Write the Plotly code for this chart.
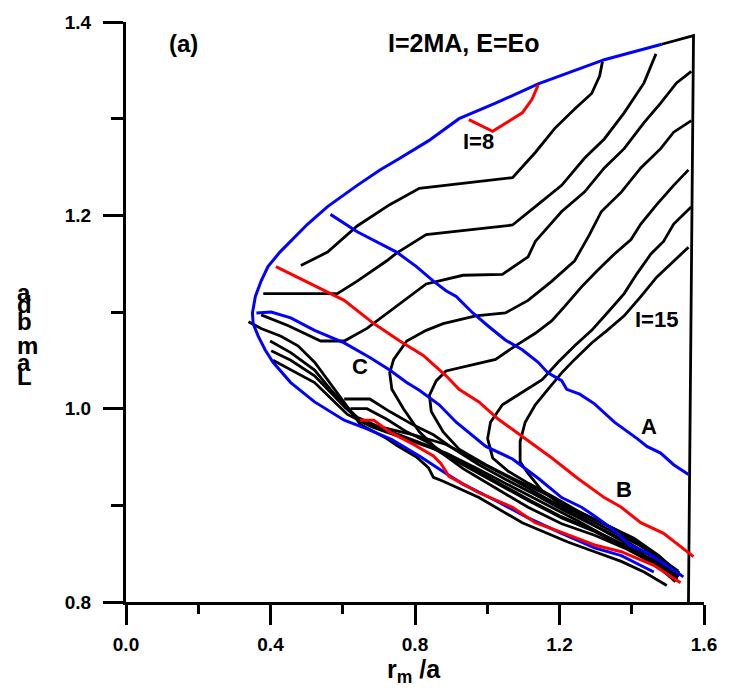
import plotly.graph_objects as go

# ---------------- data: r_m/a (R) and Lambda (L) along each curve ----------------
BLUE_OUTER_R = [1.483, 1.324, 1.141, 1.023, 0.922, 0.837, 0.758, 0.703, 0.640, 0.558, 0.503, 0.426, 0.393, 0.374,
                0.358, 0.350, 0.352, 0.366, 0.385, 0.407, 0.456, 0.522, 0.604, 0.667, 0.736, 0.812, 0.886, 0.933,
                1.023, 1.113, 1.206, 1.297, 1.371, 1.461]
BLUE_OUTER_L = [1.377, 1.361, 1.336, 1.316, 1.300, 1.277, 1.259, 1.247, 1.231, 1.209, 1.191, 1.162, 1.147, 1.132,
                1.116, 1.099, 1.088, 1.075, 1.061, 1.048, 1.027, 1.007, 0.988, 0.979, 0.968, 0.951, 0.933, 0.922,
                0.905, 0.887, 0.871, 0.856, 0.848, 0.831]

BLUE_A_R = [0.566, 0.640, 0.749, 0.804, 0.851, 0.886, 0.914, 0.960, 1.004, 1.050, 1.097, 1.141, 1.168, 1.206,
            1.220, 1.256, 1.297, 1.352, 1.415, 1.442, 1.480, 1.516, 1.557]
BLUE_A_L = [1.201, 1.183, 1.162, 1.147, 1.132, 1.122, 1.116, 1.099, 1.085, 1.071, 1.061, 1.048, 1.037, 1.029,
            1.020, 1.015, 1.005, 0.986, 0.969, 0.961, 0.954, 0.942, 0.932]

BLUE_C_R = [0.361, 0.402, 0.456, 0.522, 0.604, 0.675, 0.730, 0.777, 0.812, 0.867, 0.914, 0.996, 1.070, 1.141,
            1.206, 1.261, 1.297, 1.352, 1.393, 1.442, 1.488, 1.543]
BLUE_C_L = [1.099, 1.100, 1.094, 1.081, 1.068, 1.053, 1.040, 1.027, 1.019, 1.004, 0.986, 0.961, 0.948, 0.928,
            0.908, 0.898, 0.889, 0.874, 0.859, 0.851, 0.840, 0.826]

RED_B_R = [0.415, 0.522, 0.604, 0.686, 0.758, 0.823, 0.886, 0.922, 0.977, 1.031, 1.105, 1.179, 1.250, 1.324,
           1.371, 1.425, 1.488, 1.524, 1.571]
RED_B_L = [1.147, 1.127, 1.112, 1.088, 1.070, 1.055, 1.034, 1.020, 1.007, 0.989, 0.969, 0.949, 0.928, 0.908,
           0.898, 0.882, 0.871, 0.861, 0.847]

RED_8_R = [0.949, 1.015, 1.097, 1.124, 1.141]
RED_8_L = [1.299, 1.287, 1.306, 1.320, 1.335]

RED_LOW_R = [0.648, 0.686, 0.730, 0.796, 0.851, 0.872, 0.894, 0.977, 1.070, 1.133, 1.206, 1.297, 1.371, 1.461, 1.535]
RED_LOW_L = [0.988, 0.988, 0.976, 0.963, 0.951, 0.943, 0.930, 0.913, 0.898, 0.882, 0.872, 0.859, 0.852, 0.838, 0.820]

EDGE_R = [1.483, 1.571, 1.557]
EDGE_L = [1.377, 1.386, 0.800]

K1_R = [1.319, 1.311, 1.289, 1.242, 1.187, 1.133, 1.070, 0.812, 0.730, 0.640, 0.558, 0.484]
K1_L = [1.359, 1.344, 1.326, 1.310, 1.290, 1.265, 1.239, 1.228, 1.211, 1.189, 1.162, 1.148]

K2_R = [1.467, 1.434, 1.379, 1.324, 1.269, 1.206, 1.133, 1.070, 0.831, 0.749, 0.722, 0.640, 0.585, 0.380]
K2_L = [1.367, 1.337, 1.306, 1.279, 1.259, 1.231, 1.209, 1.190, 1.180, 1.161, 1.153, 1.132, 1.119, 1.119]

K3_R = [1.565, 1.524, 1.480, 1.434, 1.379, 1.324, 1.269, 1.206, 1.133, 1.113, 1.042, 0.933, 0.831, 0.749,
        0.667, 0.604, 0.539, 0.448, 0.374]
K3_L = [1.349, 1.337, 1.316, 1.296, 1.269, 1.249, 1.224, 1.204, 1.173, 1.157, 1.139, 1.138, 1.129, 1.106,
        1.083, 1.070, 1.070, 1.086, 1.097]

K4_R = [1.565, 1.516, 1.480, 1.425, 1.371, 1.316, 1.283, 1.242, 1.179, 1.113, 1.050, 0.968, 0.878, 0.831,
        0.777, 0.741, 0.730, 0.736, 0.768, 0.812, 0.867, 0.933, 1.023, 1.113, 1.206, 1.297, 1.379, 1.461, 1.524]
K4_L = [1.298, 1.286, 1.269, 1.249, 1.224, 1.204, 1.180, 1.153, 1.132, 1.112, 1.099, 1.096, 1.088, 1.081,
        1.070, 1.051, 1.037, 1.020, 1.000, 0.976, 0.956, 0.938, 0.918, 0.898, 0.881, 0.869, 0.856, 0.840, 0.823]

K5_R = [1.557, 1.516, 1.469, 1.425, 1.398, 1.352, 1.305, 1.261, 1.215, 1.179, 1.133, 1.078, 1.023, 0.968,
        0.886, 0.859, 0.840, 0.845, 0.878, 0.922, 0.996, 1.070, 1.160, 1.250, 1.324, 1.406, 1.475, 1.535]
K5_L = [1.247, 1.231, 1.211, 1.191, 1.175, 1.160, 1.143, 1.126, 1.106, 1.091, 1.078, 1.065, 1.051, 1.046,
        1.039, 1.029, 1.014, 0.997, 0.976, 0.958, 0.942, 0.928, 0.912, 0.894, 0.881, 0.866, 0.848, 0.828]

K6_R = [1.565, 1.516, 1.488, 1.453, 1.415, 1.379, 1.332, 1.289, 1.242, 1.196, 1.152, 1.097, 1.042, 1.009,
        1.001, 1.015, 1.059, 1.113, 1.187, 1.261, 1.338, 1.406, 1.467, 1.532]
K6_L = [1.209, 1.191, 1.173, 1.160, 1.140, 1.119, 1.099, 1.081, 1.065, 1.048, 1.030, 1.017, 1.004, 0.986,
        0.969, 0.949, 0.935, 0.923, 0.908, 0.892, 0.878, 0.864, 0.848, 0.830]

K7_R = [1.557, 1.516, 1.469, 1.425, 1.379, 1.332, 1.289, 1.242, 1.206, 1.168, 1.133, 1.105, 1.091, 1.091,
        1.113, 1.152, 1.206, 1.278, 1.352, 1.420, 1.475, 1.529]
K7_L = [1.167, 1.153, 1.136, 1.116, 1.096, 1.081, 1.068, 1.051, 1.037, 1.020, 1.004, 0.986, 0.966, 0.945,
        0.933, 0.915, 0.900, 0.886, 0.872, 0.859, 0.846, 0.832]

F1_R = [0.339, 0.374, 0.429, 0.476, 0.522, 0.558, 0.585, 0.613, 0.648, 0.722, 0.749, 0.804, 0.837, 0.851,
        0.878, 0.977, 1.097, 1.223, 1.297, 1.371, 1.434, 1.497]
F1_L = [1.090, 1.083, 1.075, 1.065, 1.048, 1.030, 1.017, 1.002, 0.984, 0.969, 0.962, 0.950, 0.939, 0.929,
        0.925, 0.908, 0.882, 0.862, 0.852, 0.842, 0.831, 0.817]

F2_R = [0.399, 0.456, 0.522, 0.566, 0.604, 0.640, 0.695, 0.796, 0.886, 0.977, 1.070, 1.160, 1.250, 1.332,
        1.406, 1.475, 1.524]
F2_L = [1.070, 1.058, 1.040, 1.020, 1.004, 0.991, 0.982, 0.973, 0.963, 0.945, 0.927, 0.908, 0.889, 0.872,
        0.856, 0.838, 0.823]

F3_R = [0.407, 0.456, 0.522, 0.566, 0.613, 0.681, 0.796, 0.886, 0.977, 1.070, 1.160, 1.250, 1.332, 1.406,
        1.475, 1.521]
F3_L = [1.050, 1.040, 1.027, 1.011, 0.994, 0.981, 0.966, 0.954, 0.937, 0.919, 0.902, 0.884, 0.867, 0.852,
        0.836, 0.821]

F4_R = [0.402, 0.456, 0.522, 0.566, 0.607, 0.654, 0.749, 0.840, 0.933, 1.023, 1.113, 1.206, 1.297, 1.379,
        1.461, 1.527]
F4_L = [1.060, 1.050, 1.034, 1.017, 1.001, 0.986, 0.974, 0.961, 0.942, 0.924, 0.905, 0.887, 0.873, 0.857,
        0.840, 0.824]

S1_R = [0.604, 0.675, 0.730, 0.796, 0.851, 0.905, 0.977, 1.050, 1.133, 1.215, 1.297, 1.379, 1.461, 1.532]
S1_L = [1.010, 1.010, 0.997, 0.983, 0.973, 0.959, 0.942, 0.927, 0.911, 0.894, 0.879, 0.864, 0.846, 0.827]

S2_R = [0.621, 0.667, 0.722, 0.777, 0.831, 0.886, 0.960, 1.037, 1.119, 1.201, 1.297, 1.379, 1.461, 1.529]
S2_L = [1.000, 1.000, 0.989, 0.976, 0.966, 0.953, 0.938, 0.922, 0.905, 0.889, 0.874, 0.859, 0.843, 0.826]

BLACK_CURVES = [(EDGE_R, EDGE_L), (K1_R, K1_L), (K2_R, K2_L), (K3_R, K3_L), (K4_R, K4_L), (K5_R, K5_L),
                (K6_R, K6_L), (K7_R, K7_L), (F1_R, F1_L), (F2_R, F2_L), (F3_R, F3_L), (F4_R, F4_L),
                (S1_R, S1_L), (S2_R, S2_L)]
BLUE_CURVES = [(BLUE_OUTER_R, BLUE_OUTER_L), (BLUE_A_R, BLUE_A_L), (BLUE_C_R, BLUE_C_L)]
RED_CURVES = [(RED_B_R, RED_B_L), (RED_8_R, RED_8_L), (RED_LOW_R, RED_LOW_L)]

FONT = "Liberation Sans, Arial, sans-serif"

fig = go.Figure()
for r, l in BLACK_CURVES:
    fig.add_trace(go.Scatter(x=r, y=l, mode="lines", line=dict(color="black", width=2.8), hoverinfo="skip"))
for r, l in BLUE_CURVES:
    fig.add_trace(go.Scatter(x=r, y=l, mode="lines", line=dict(color="#0000ff", width=3), hoverinfo="skip"))
for r, l in RED_CURVES:
    fig.add_trace(go.Scatter(x=r, y=l, mode="lines", line=dict(color="#ff0000", width=3), hoverinfo="skip"))

ann = []
def label(text, x, y, size, xref="x", yref="y", xanchor="center", yanchor="middle"):
    ann.append(dict(text=text, x=x, y=y, xref=xref, yref=yref, xanchor=xanchor, yanchor=yanchor,
                    showarrow=False, font=dict(family=FONT, size=size, color="black", weight="bold")))

label("(a)", 0.158, 1.378, 24)
label("I=2MA, E=Eo", 0.935, 1.3785, 25)
label("I=8", 0.9765, 1.276, 22)
label("I=15", 1.469, 1.092, 22)
label("A", 1.447, 0.982, 22)
label("B", 1.379, 0.916, 22)
label("C", 0.648, 1.0435, 22)
label("r<sub>m</sub> /a", 0.7985, -0.119, 25, yref="paper")
# stacked y title letters (bottom to top spells "Lambda")
for ch, yy in [("L", 1.0332), ("a", 1.0475), ("m", 1.0649), ("b", 1.0904), ("d", 1.1078), ("a", 1.1205)]:
    label(ch, -0.1915, yy, 24, xref="paper", xanchor="left")

axis_common = dict(ticks="outside", ticklen=20, tickwidth=3, tickcolor="black", showline=True, linewidth=3,
                   linecolor="black", showgrid=False, zeroline=False, tickformat=".1f",
                   tickfont=dict(family=FONT, size=19, color="black", weight="bold"))

fig.update_layout(
    width=729, height=692, margin=dict(l=126, r=18, t=15, b=90),
    paper_bgcolor="white", plot_bgcolor="white", showlegend=False,
    xaxis=dict(range=[0, 1.6], tick0=0, dtick=0.4, ticklabelstandoff=3,
               minor=dict(dtick=0.2, ticks="outside", ticklen=9, tickwidth=3, tickcolor="black"),
               **axis_common),
    yaxis=dict(range=[0.8, 1.4], tick0=0.8, dtick=0.2, ticklabelstandoff=8,
               minor=dict(dtick=0.1, ticks="outside", ticklen=12, tickwidth=3, tickcolor="black"),
               **axis_common),
    annotations=ann,
)

fig.write_html("out.html")
